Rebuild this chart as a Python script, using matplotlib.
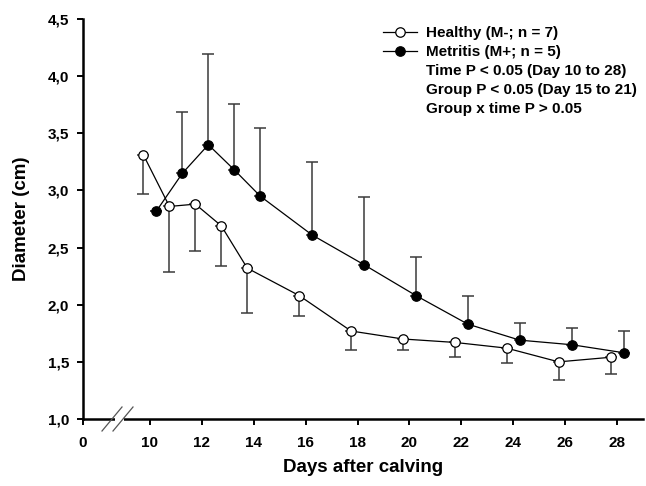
import matplotlib
matplotlib.use("Agg")
import matplotlib.pyplot as plt
from matplotlib.lines import Line2D
import matplotlib.transforms as mtransforms

plt.rcParams['font.family'] = ['Liberation Sans', 'DejaVu Sans']
plt.rcParams['font.weight'] = 'bold'

# ---- data ----
days = [10, 11, 12, 13, 14, 16, 18, 20, 22, 24, 26, 28]
healthy_mean = [3.31, 2.86, 2.88, 2.69, 2.32, 2.08, 1.77, 1.70, 1.67, 1.62, 1.50, 1.54]
healthy_sem = [0.34, 0.57, 0.41, 0.35, 0.39, 0.18, 0.17, 0.10, 0.13, 0.13, 0.16, 0.15]
metritis_mean = [2.82, 3.15, 3.40, 3.18, 2.95, 2.61, 2.35, 2.08, 1.83, 1.69, 1.65, 1.58]
metritis_sem = [0.0, 0.54, 0.79, 0.58, 0.60, 0.64, 0.59, 0.34, 0.25, 0.15, 0.15, 0.19]
xtick_vals = [10, 12, 14, 16, 18, 20, 22, 24, 26, 28]
ytick_vals = [1.0, 1.5, 2.0, 2.5, 3.0, 3.5, 4.0, 4.5]
ytick_labels = ["1,0", "1,5", "2,0", "2,5", "3,0", "3,5", "4,0", "4,5"]
legend_labels = ["Healthy (M-; n = 7)", "Metritis (M+; n = 5)",
                 "Time P < 0.05 (Day 10 to 28)",
                 "Group P < 0.05 (Day 15 to 21)",
                 "Group x time P > 0.05"]

X_LEFT = 7.42   # broken axis: left edge labelled "0"
X_RIGHT = 29.0
OFFSET = 0.25

fig = plt.figure(figsize=(6.46, 4.86), dpi=100)
ax = fig.add_axes([83/646, 67/486, 560/646, 400/486])

hx = [d - OFFSET for d in days]
mx = [d + OFFSET for d in days]

ecol = '#3a3a3a'
ax.errorbar(mx, metritis_mean, yerr=[[0]*len(days), metritis_sem], fmt='none',
            ecolor=ecol, elinewidth=1.1, capsize=4.5, capthick=1.1, zorder=2)
ax.errorbar(hx, healthy_mean, yerr=[healthy_sem, [0]*len(days)], fmt='none',
            ecolor=ecol, elinewidth=1.1, capsize=4.5, capthick=1.1, zorder=2)

h2, = ax.plot(mx, metritis_mean, '-o', color='black', lw=0.9, ms=6.8,
              mfc='black', mec='black', mew=0.9, zorder=3)
h1, = ax.plot(hx, healthy_mean, '-o', color='black', lw=0.9, ms=6.8,
              mfc='white', mec='black', mew=0.9, zorder=4)

ax.set_xlim(X_LEFT, X_RIGHT)
ax.set_ylim(1.0, 4.5)
ax.set_xticks([X_LEFT] + xtick_vals)
ax.set_xticklabels(["0"] + [str(v) for v in xtick_vals])
ax.set_yticks(ytick_vals)
ax.set_yticklabels(ytick_labels)

for s in ['top', 'right']:
    ax.spines[s].set_visible(False)
for s in ['left', 'bottom']:
    ax.spines[s].set_linewidth(1.8)
ax.tick_params(axis='both', direction='out', length=4, width=1.4, labelsize=11)
ax.tick_params(axis='y', pad=6)
ax.tick_params(axis='x', pad=8)
for lab in ax.get_xticklabels() + ax.get_yticklabels():
    lab.set_fontweight('bold')

ax.set_xlabel("Days after calving", fontsize=13.5, fontweight='bold')
ax.set_ylabel("Diameter (cm)", fontsize=13.5, fontweight='bold')
ax.xaxis.set_label_coords(0.5, -0.12)
ax.xaxis.label.set_va('center')
ax.yaxis.set_label_coords(-0.11, 0.5)
ax.yaxis.label.set_va('center')

# axis break marks
trans = mtransforms.blended_transform_factory(ax.transData, ax.transAxes)
px = (X_RIGHT - X_LEFT) / 560.0
gap0 = X_LEFT + (115 - 83) * px
gap1 = X_LEFT + (123.5 - 83) * px
ax.plot([gap0, gap1], [0, 0], color='white', lw=3, transform=trans,
        clip_on=False, zorder=10, solid_capstyle='butt')
for xc in [112 - 83, 123 - 83]:
    xm = X_LEFT + xc * px
    ax.plot([xm - 10 * px, xm + 10 * px], [-0.03, 0.03], color='#555555',
            lw=0.9, transform=trans, clip_on=False, zorder=11)

blank = Line2D([], [], linestyle='none')
leg = ax.legend([h1, h2, blank, blank, blank], legend_labels,
                loc='upper left', bbox_to_anchor=((383 - 83) / 560, (419 - 26) / 400),
                frameon=False, handlelength=2.2, handletextpad=0.6,
                labelspacing=0.32, borderpad=0, borderaxespad=0,
                prop={'weight': 'bold', 'size': 11})

fig.savefig("out.png", dpi=100)
